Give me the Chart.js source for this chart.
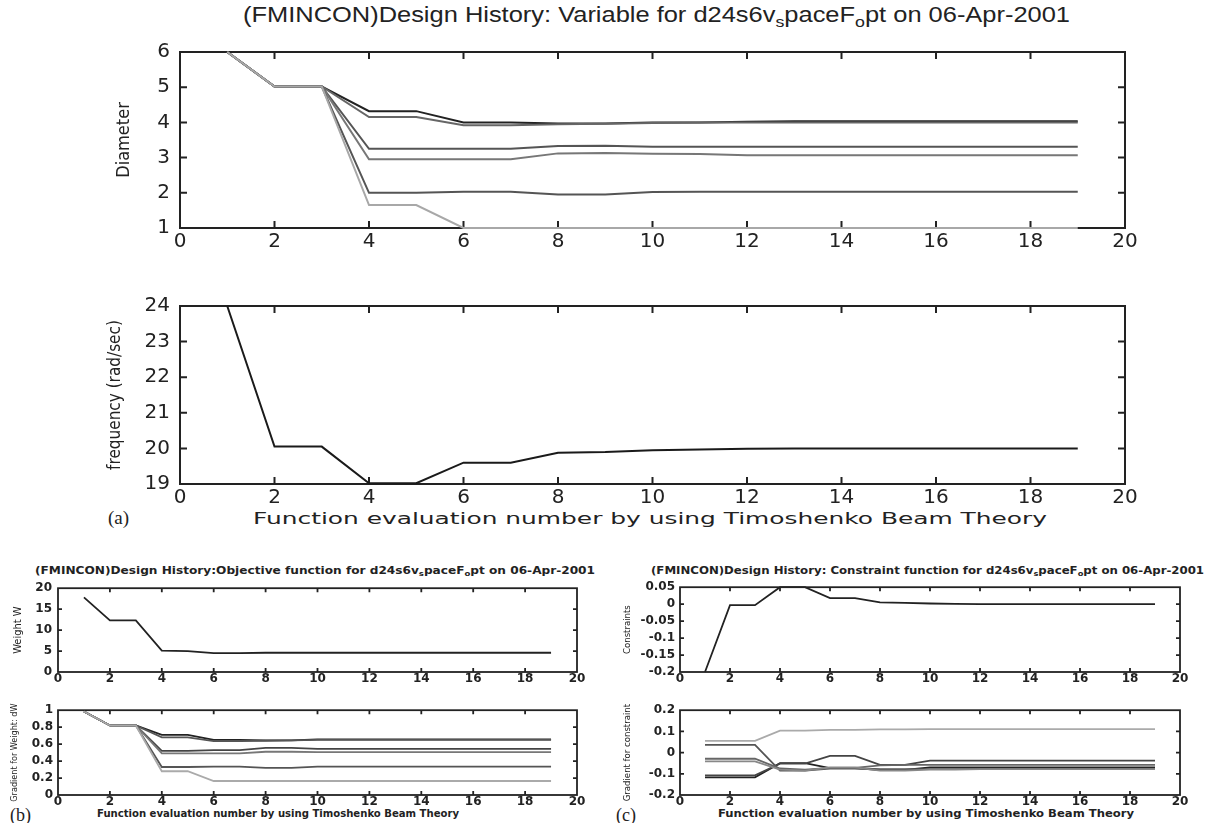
<!DOCTYPE html>
<html>
<head>
<meta charset="utf-8">
<script src="https://cdn.jsdelivr.net/npm/chart.js@4.4.0/dist/chart.umd.min.js"></script>
<style>
body { margin:0; background:#fff; width:1218px; height:823px; position:relative; overflow:hidden; color:#222; }
.box { position:absolute; }
.txt { position:absolute; white-space:nowrap; transform-origin:0 50%; line-height:1; }
sub { font-size:70%; vertical-align:-0.35em; line-height:0; }
</style>
</head>
<body>

<div class="txt fit" data-w="827" style="left:243px; top:2px; font:22px 'Liberation Sans', sans-serif;">(FMINCON)Design History: Variable for d24s6v<sub>s</sub>paceF<sub>o</sub>pt on 06-Apr-2001</div>
<div class="txt fit" data-w="794" style="left:253px; top:509px; font:16px 'DejaVu Sans', sans-serif;">Function evaluation number by using Timoshenko Beam Theory</div>
<div class="txt" style="left:108px; top:507px; font:19px 'Liberation Serif', serif;">(a)</div>

<div class="txt fit" data-w="560" style="left:35px; top:565px; font:bold 10px 'DejaVu Sans', sans-serif;">(FMINCON)Design History:Objective function for d24s6v<sub>s</sub>paceF<sub>o</sub>pt on 06-Apr-2001</div>
<div class="txt fit" data-w="553" style="left:651px; top:565px; font:bold 10px 'DejaVu Sans', sans-serif;">(FMINCON)Design History: Constraint function for d24s6v<sub>s</sub>paceF<sub>o</sub>pt on 06-Apr-2001</div>
<div class="txt fit" data-w="362" style="left:97px; top:808px; font:bold 10px 'DejaVu Sans', sans-serif;">Function evaluation number by using Timoshenko Beam Theory</div>
<div class="txt fit" data-w="416" style="left:718px; top:808px; font:bold 10px 'DejaVu Sans', sans-serif;">Function evaluation number by using Timoshenko Beam Theory</div>
<div class="txt" style="left:10px; top:805px; font:18px 'Liberation Serif', serif;">(b)</div>
<div class="txt" style="left:616px; top:805px; font:18px 'Liberation Serif', serif;">(c)</div>

<script>
// function evaluation number (x)
const evalNo = [1, 2, 3, 4, 5, 6, 7, 8, 9, 10, 11, 12, 13, 14, 15, 16, 17, 18, 19];
const xTicks = [0, 2, 4, 6, 8, 10, 12, 14, 16, 18, 20];

// (a) design variables: diameter
const diam1 = [6, 5.02, 5.02, 4.32, 4.32, 4.0, 4.0, 3.97, 3.97, 4.0, 4.0, 4.02, 4.03, 4.03, 4.03, 4.03, 4.03, 4.03, 4.03];
const diam2 = [6, 5.02, 5.02, 4.15, 4.15, 3.92, 3.92, 3.95, 3.96, 3.98, 4.0, 4.0, 4.0, 4.0, 4.0, 4.0, 4.0, 4.0, 4.0];
const diam3 = [6, 5.02, 5.02, 3.25, 3.25, 3.25, 3.25, 3.33, 3.34, 3.31, 3.31, 3.31, 3.31, 3.31, 3.31, 3.31, 3.31, 3.31, 3.31];
const diam4 = [6, 5.02, 5.02, 2.95, 2.95, 2.95, 2.95, 3.12, 3.13, 3.11, 3.1, 3.07, 3.07, 3.07, 3.07, 3.07, 3.07, 3.07, 3.07];
const diam5 = [6, 5.02, 5.02, 2.0, 2.0, 2.03, 2.03, 1.95, 1.95, 2.02, 2.03, 2.03, 2.03, 2.03, 2.03, 2.03, 2.03, 2.03, 2.03];
const diam6 = [6, 5.02, 5.02, 1.65, 1.65, 1.0, 1.0, 1.0, 1.0, 1.0, 1.0, 1.0, 1.0, 1.0, 1.0, 1.0, 1.0, 1.0, 1.0];
const diamTicks = [1, 2, 3, 4, 5, 6];

// (a) frequency
const freq = [24, 20.05, 20.05, 19.02, 19.02, 19.6, 19.6, 19.88, 19.9, 19.95, 19.97, 19.99, 20, 20, 20, 20, 20, 20, 20];
const freqTicks = [19, 20, 21, 22, 23, 24];

// (b) objective and its gradient
const weight = [17.8, 12.3, 12.3, 5.1, 5.0, 4.5, 4.5, 4.6, 4.6, 4.6, 4.6, 4.6, 4.6, 4.6, 4.6, 4.6, 4.6, 4.6, 4.6];
const weightTicks = [0, 5, 10, 15, 20];
const gradW1 = [0.985, 0.82, 0.82, 0.71, 0.71, 0.65, 0.65, 0.645, 0.645, 0.655, 0.655, 0.655, 0.655, 0.655, 0.655, 0.655, 0.655, 0.655, 0.655];
const gradW2 = [0.985, 0.82, 0.82, 0.68, 0.68, 0.635, 0.635, 0.64, 0.645, 0.65, 0.65, 0.65, 0.65, 0.65, 0.65, 0.65, 0.65, 0.65, 0.65];
const gradW3 = [0.985, 0.82, 0.82, 0.52, 0.52, 0.53, 0.53, 0.555, 0.555, 0.545, 0.545, 0.545, 0.545, 0.545, 0.545, 0.545, 0.545, 0.545, 0.545];
const gradW4 = [0.985, 0.82, 0.82, 0.49, 0.49, 0.49, 0.49, 0.51, 0.51, 0.505, 0.505, 0.505, 0.505, 0.505, 0.505, 0.505, 0.505, 0.505, 0.505];
const gradW5 = [0.985, 0.82, 0.82, 0.33, 0.33, 0.335, 0.335, 0.32, 0.32, 0.335, 0.335, 0.335, 0.335, 0.335, 0.335, 0.335, 0.335, 0.335, 0.335];
const gradW6 = [0.985, 0.82, 0.82, 0.28, 0.28, 0.165, 0.165, 0.165, 0.165, 0.165, 0.165, 0.165, 0.165, 0.165, 0.165, 0.165, 0.165, 0.165, 0.165];
const gradWTicks = [0, 0.2, 0.4, 0.6, 0.8, 1];

// (c) constraint and its gradient
const constr = [-0.2, -0.003, -0.003, 0.05, 0.05, 0.018, 0.018, 0.005, 0.004, 0.002, 0.001, 0, 0, 0, 0, 0, 0, 0, 0];
const constrTicks = [-0.2, -0.15, -0.1, -0.05, 0, 0.05];
const gradC1 = [0.055, 0.055, 0.055, 0.104, 0.104, 0.107, 0.107, 0.11, 0.11, 0.111, 0.111, 0.111, 0.111, 0.111, 0.111, 0.111, 0.111, 0.111, 0.111];
const gradC2 = [0.036, 0.036, 0.036, -0.085, -0.085, -0.075, -0.075, -0.078, -0.078, -0.078, -0.078, -0.077, -0.077, -0.077, -0.077, -0.077, -0.077, -0.077, -0.077];
const gradC3 = [-0.107, -0.107, -0.107, -0.052, -0.052, -0.015, -0.015, -0.058, -0.058, -0.038, -0.038, -0.038, -0.038, -0.038, -0.038, -0.038, -0.038, -0.038, -0.038];
const gradC4 = [-0.117, -0.117, -0.117, -0.05, -0.05, -0.073, -0.073, -0.082, -0.082, -0.07, -0.07, -0.07, -0.07, -0.07, -0.07, -0.07, -0.07, -0.07, -0.07];
const gradC5 = [-0.029, -0.029, -0.029, -0.075, -0.08, -0.072, -0.072, -0.06, -0.058, -0.058, -0.058, -0.058, -0.058, -0.058, -0.058, -0.058, -0.058, -0.058, -0.058];
const gradC6 = [-0.041, -0.041, -0.041, -0.08, -0.085, -0.07, -0.07, -0.085, -0.085, -0.08, -0.08, -0.078, -0.078, -0.078, -0.078, -0.078, -0.078, -0.078, -0.078];
const gradCTicks = [-0.2, -0.1, 0, 0.1, 0.2];

// stretch the loose text blocks to the width they have in the scan
document.querySelectorAll(".fit").forEach(el => {
    const w = el.getBoundingClientRect().width;
    el.style.transform = "scaleX(" + (el.dataset.w / w) + ")";
});

// matlab style box with inward ticks on all four sides
const matlabBox = {
    id: "matlabBox",
    beforeDatasetsDraw(chart, args, opts) {
        const {ctx, chartArea: a, scales: {x, y}} = chart;
        ctx.save();
        ctx.strokeStyle = "#222";
        ctx.lineWidth = opts.width;
        ctx.strokeRect(a.left, a.top, a.right - a.left, a.bottom - a.top);
        ctx.beginPath();
        x.ticks.forEach(t => {
            const px = x.getPixelForValue(t.value);
            if (px <= a.left + 1 || px >= a.right - 1) return;
            ctx.moveTo(px, a.bottom); ctx.lineTo(px, a.bottom - opts.len);
            ctx.moveTo(px, a.top); ctx.lineTo(px, a.top + opts.len);
        });
        y.ticks.forEach(t => {
            const py = y.getPixelForValue(t.value);
            if (py <= a.top + 1 || py >= a.bottom - 1) return;
            ctx.moveTo(a.left, py); ctx.lineTo(a.left + opts.len, py);
            ctx.moveTo(a.right, py); ctx.lineTo(a.right - opts.len, py);
        });
        ctx.stroke();
        ctx.restore();
    }
};

function makeChart(area, sizes, series, yMin, yMax, yTicks, yTitle) {
    const div = document.createElement("div");
    div.className = "box";
    div.style.left = (area.l - sizes.yW) + "px";
    div.style.top = (area.t - sizes.padT) + "px";
    div.style.width = (area.r - area.l + sizes.yW + sizes.padR) + "px";
    div.style.height = (area.b - area.t + sizes.padT + sizes.xH) + "px";
    const cv = document.createElement("canvas");
    div.appendChild(cv);
    document.body.appendChild(div);

    const tickFont = sizes.small
        ? {family: "DejaVu Sans", size: 12, weight: "bold"}
        : {family: "DejaVu Sans", size: 20};

    return new Chart(cv, {
        type: "line",
        data: {
            datasets: series.map(s => ({
                data: s.data.map((v, i) => ({x: evalNo[i], y: v})),
                borderColor: s.color,
                borderWidth: s.width || (sizes.small ? 1.8 : 2),
                pointRadius: 0,
                tension: 0,
                clip: 3
            }))
        },
        options: {
            responsive: true,
            maintainAspectRatio: false,
            animation: false,
            layout: {padding: {top: sizes.padT, right: sizes.padR, left: 0, bottom: 0}},
            plugins: {
                legend: {display: false},
                tooltip: {enabled: false},
                matlabBox: {width: sizes.small ? 1.8 : 2, len: sizes.small ? 4 : 7}
            },
            scales: {
                x: {
                    type: "linear",
                    min: 0,
                    max: 20,
                    afterBuildTicks: s => { s.ticks = xTicks.map(v => ({value: v})); },
                    afterFit: s => { s.height = sizes.xH; },
                    grid: {display: false, drawTicks: false},
                    border: {display: false},
                    ticks: {
                        autoSkip: false,
                        maxRotation: 0,
                        padding: sizes.xPad,
                        color: "#222",
                        font: tickFont,
                        callback: v => String(v)
                    }
                },
                y: {
                    type: "linear",
                    min: yMin,
                    max: yMax,
                    afterBuildTicks: s => { s.ticks = yTicks.map(v => ({value: v})); },
                    afterFit: s => { s.width = sizes.yW; },
                    grid: {display: false, drawTicks: false},
                    border: {display: false},
                    ticks: {
                        autoSkip: false,
                        padding: sizes.yPad,
                        color: "#222",
                        font: tickFont,
                        callback: v => String(v)
                    },
                    title: {
                        display: true,
                        text: yTitle,
                        color: "#222",
                        padding: {top: sizes.titlePad, bottom: 0},
                        font: {
                            family: "'Liberation Sans Narrow', 'DejaVu Sans Condensed', sans-serif",
                            size: sizes.titleSize,
                            lineHeight: 1.2
                        }
                    }
                }
            }
        },
        plugins: [matlabBox]
    });
}

const bigA = {yW: 80, padT: 14, padR: 22, xH: 30, xPad: 2, yPad: 10, titlePad: 14, titleSize: 18};
const bigB = {yW: 80, padT: 14, padR: 22, xH: 30, xPad: 2, yPad: 10, titlePad: 5, titleSize: 17};

makeChart({l: 180, t: 44, r: 1125, b: 228}, bigA, [
    {data: diam6, color: "#a8a8a8"},
    {data: diam5, color: "#555"},
    {data: diam4, color: "#777"},
    {data: diam3, color: "#555"},
    {data: diam2, color: "#666"},
    {data: diam1, color: "#222"}
], 1, 6, diamTicks, "Diameter");

makeChart({l: 180, t: 298, r: 1125, b: 484}, bigB, [
    {data: freq, color: "#1a1a1a"}
], 19, 24, freqTicks, "frequency (rad/sec)");

const smallL = {small: true, yW: 58, padT: 8, padR: 14, xH: 16, xPad: 0, yPad: 6, titlePad: 12, titleSize: 11};
const smallL2 = {small: true, yW: 58, padT: 8, padR: 14, xH: 16, xPad: 0, yPad: 5, titlePad: 9, titleSize: 9};
const smallR = {small: true, yW: 60, padT: 8, padR: 14, xH: 16, xPad: 0, yPad: 5, titlePad: 2, titleSize: 9.5};

makeChart({l: 58, t: 583, r: 577, b: 672}, smallL, [
    {data: weight, color: "#222"}
], 0, 20, weightTicks, "Weight W");

makeChart({l: 58, t: 706, r: 577, b: 795}, smallL2, [
    {data: gradW6, color: "#aaa"},
    {data: gradW5, color: "#555"},
    {data: gradW4, color: "#777"},
    {data: gradW3, color: "#444"},
    {data: gradW2, color: "#555"},
    {data: gradW1, color: "#222"}
], 0, 1, gradWTicks, "Gradient for Weight: dW");

makeChart({l: 680, t: 583, r: 1180, b: 672}, smallR, [
    {data: constr, color: "#222"}
], -0.2, 0.05, constrTicks, "Constraints");

makeChart({l: 680, t: 706, r: 1180, b: 795}, smallR, [
    {data: gradC1, color: "#aaa"},
    {data: gradC6, color: "#888"},
    {data: gradC5, color: "#666"},
    {data: gradC2, color: "#555"},
    {data: gradC3, color: "#444"},
    {data: gradC4, color: "#222"}
], -0.2, 0.2, gradCTicks, "Gradient for constraint");
</script>
</body>
</html>
